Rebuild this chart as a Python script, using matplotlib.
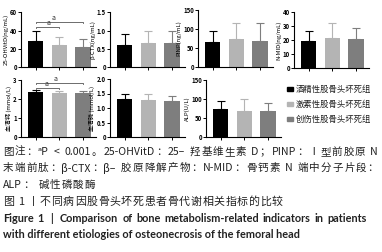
import re

import matplotlib

matplotlib.use("Agg")
import matplotlib.pyplot as plt
from matplotlib.patches import Rectangle

plt.rcParams["font.family"] = ["Noto Sans CJK SC", "DejaVu Sans"]

W, H = 382, 252

groups = ["酒精性股骨头坏死组", "激素性股骨头坏死组", "创伤性股骨头坏死组"]
colors = ["#000000", "#b4b4b4", "#7e7e7e"]

ohvd_mean = [29, 24.2, 21.5]
ohvd_sd = [11, 8.5, 9]
ctx_mean = [0.61, 0.65, 0.65]
ctx_sd = [0.30, 0.35, 0.35]
pinp_mean = [67, 74, 68.5]
pinp_sd = [29, 43, 47]
nmid_mean = [19.6, 21.5, 20.8]
nmid_sd = [6.8, 10.8, 7.9]
ca_mean = [2.35, 2.31, 2.31]
ca_sd = [0.1, 0.1, 0.1]
p_mean = [1.31, 1.29, 1.25]
p_sd = [0.18, 0.2, 0.17]
alp_mean = [74, 69, 68]
alp_sd = [21, 31, 21]

panels = [
    # label, means, sds, ymax, yticks, left px, top px, bottom px
    ("25-OHVitD(ng/mL)", ohvd_mean, ohvd_sd, 60, [0, 20, 40, 60], 21, 12.5, 67),
    ("β-CTX(ng/mL)", ctx_mean, ctx_sd, 1.5, [0, 0.5, 1.0, 1.5], 110, 12.5, 67),
    ("PINP(ng/mL)", pinp_mean, pinp_sd, 150, [0, 50, 100, 150], 198, 10, 67),
    ("N-MID(ng/mL)", nmid_mean, nmid_sd, 40, [0, 10, 20, 30, 40], 294, 12.5, 68),
    ("血清钙 (mmol/L)", ca_mean, ca_sd, 3, [0, 1, 2, 3], 21, 80, 137),
    ("血清磷 (mmol/L)", p_mean, p_sd, 2.0, [0, 0.5, 1.0, 1.5, 2.0], 110, 79, 137),
    ("ALP(U/L)", alp_mean, alp_sd, 150, [0, 50, 100, 150], 206, 80, 137),
]

fig = plt.figure(figsize=(W / 100, H / 100), dpi=100)
renderer = fig.canvas.get_renderer()

axes = []
for label, mean, sd, ymax, ticks, left, top, bottom in panels:
    ax = fig.add_axes([left / W, 1 - bottom / H, 75 / W, (bottom - top) / H])
    x = range(len(mean))
    for i in x:
        ax.bar(i, mean[i], width=0.66, color=colors[i], zorder=2)
        ax.errorbar(i, mean[i], yerr=[[0], [sd[i]]], color=colors[i],
                    capsize=3.2, elinewidth=0.8, capthick=0.8, zorder=1)
    ax.set_xlim(-0.62, 2.55)
    ax.set_ylim(0, ymax)
    ax.set_yticks(ticks)
    ax.set_yticklabels([f"{t:g}" if ymax >= 3 else f"{t:.1f}" if t else "0" for t in ticks])
    ax.set_xticks(list(x))
    ax.set_xticklabels([])
    for s in ("top", "right"):
        ax.spines[s].set_visible(False)
    for s in ("left", "bottom"):
        ax.spines[s].set_linewidth(0.8)
    ax.tick_params(axis="both", length=2, width=0.7, pad=1, labelsize=4.3)
    for t in ax.get_yticklabels():
        t.set_fontweight("bold")
    ax.set_ylabel(label, fontsize=4.3, labelpad=1)
    axes.append(ax)


def bracket(ax, x0, x1, y, h, lx):
    ax.plot([x0, x0, x1, x1], [y - h, y, y, y - h], color="#555555", lw=0.6, clip_on=False)
    ax.text(lx, y, "a", ha="center", va="bottom", fontsize=5, color="#333333")


bracket(axes[0], 0, 2, 50, 1.2, 0.75)
bracket(axes[0], 0, 1, 44, 1.2, 0.55)
bracket(axes[4], 0, 2, 2.84, 0.06, 0.85)
bracket(axes[4], 0, 1, 2.58, 0.06, 0.45)

# legend
for i, g in enumerate(groups):
    yc = 89 + 15 * i
    fig.patches.append(Rectangle((287 / W, 1 - (yc + 1.6) / H), 6 / W, 3.2 / H,
                                 transform=fig.transFigure, color=colors[i]))
    fig.text(296 / W, 1 - yc / H, g, fontsize=6, va="center", ha="left", color="#222222")


def put_line(s, y, size, weight, family, x0=3, x1=None, mode="char"):
    """Draw one caption line; if x1 is given, stretch the gaps so it ends there."""
    kw = dict(fontsize=size, fontweight=weight, family=family, va="center",
              ha="left", color="#222222")
    if x1 is None:
        fig.text(x0 / W, 1 - y / H, s, **kw)
        return
    toks = re.findall(r"\s+|[A-Za-z0-9.\-<>()/ᵃ–β|]+|.", s) if mode == "char" \
        else re.findall(r"\s+|\S+", s)
    space_w = 0.26 * size * 100 / 72
    widths = []
    for tk in toks:
        if tk.isspace():
            widths.append(space_w * len(tk))
        else:
            t = fig.text(0, 0, tk, **kw)
            widths.append(t.get_window_extent(renderer).width)
            t.remove()
    if mode == "char":
        slots = [True] * (len(toks) - 1)
    else:
        slots = [tk.isspace() for tk in toks[:-1]]
    extra = max(0, (x1 - x0) - sum(widths)) / max(1, sum(slots))
    x = x0
    for k, (tk, w) in enumerate(zip(toks, widths)):
        if not tk.isspace():
            fig.text(x / W, 1 - y / H, tk, **kw)
        x += w
        if k < len(slots) and slots[k]:
            x += extra


cjk = ["Noto Sans CJK SC", "DejaVu Sans"]
eng = ["Lato", "DejaVu Sans"]
put_line("图注：ᵃP < 0.001。25-OHVitD：25– 羟基维生素 D；PINP：Ⅰ型前胶原 N", 152, 7.6, "normal", cjk, x1=378)
put_line("末端前肽：β-CTX：β– 胶原降解产物：N-MID：骨钙素 N 端中分子片段：", 168, 7.6, "normal", cjk, x1=378)
put_line("ALP： 碱性磷酸酶", 185, 7.6, "normal", cjk, x1=95)
put_line("图 1 丨不同病因股骨头坏死患者骨代谢相关指标的比较", 202, 7.9, "normal", cjk, x1=283)
put_line("Figure 1  |  Comparison of bone metabolism-related indicators in patients", 218, 7.8, "bold", eng,
         x1=367, mode="word")
put_line("with different etiologies of osteonecrosis of the femoral head", 234, 7.8, "bold", eng)

fig.savefig("out.png", dpi=100)
